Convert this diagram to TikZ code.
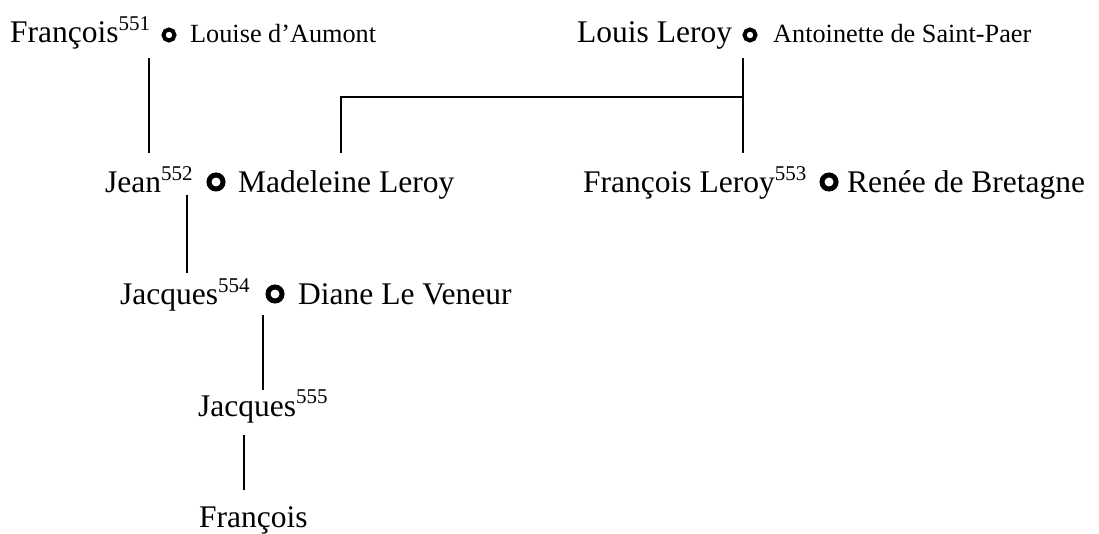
\documentclass[tikz,border=0pt]{standalone}
\usepackage{fontspec}
\setmainfont{Liberation Serif}
\newcommand{\gnum}[1]{\raisebox{12.5pt}{\fontsize{21}{24}\selectfont #1}}

\begin{document}
\begin{tikzpicture}[x=1pt,y=-1pt]
  \tikzset{person/.style = {anchor=base west,inner sep=0pt,font=\fontsize{31.5}{36}\selectfont}}
  \tikzset{spouse/.style = {anchor=base west,inner sep=0pt,font=\fontsize{26.25}{30}\selectfont}}
  \tikzset{ring/.style = {circle,draw,line width=4pt,minimum size=11pt,inner sep=0pt}}
  \tikzset{bigring/.style = {ring,line width=5pt,minimum size=14pt}}
  \tikzset{edge/.style = {line width=2.4pt}}

  \useasboundingbox (0,0) rectangle (1099,534);

	\node[person] (francois1) at (10,43) {François\gnum{551}};
	\node[ring] (r1) at (169,35) {};
	\node[spouse] (louise) at (190,43) {Louise d’Aumont};

	\node[person] (louis) at (577,43) {Louis Leroy};
	\node[ring] (r2) at (750,35) {};
	\node[spouse] (antoinette) at (773,43) {Antoinette de Saint-Paer};

		\node[person] (jean) at (105,193) {Jean\gnum{552}};
		\node[bigring] (r3) at (216,182) {};
		\node[person] (madeleine) at (238,193) {Madeleine Leroy};

		\node[person] (francoisL) at (583,193) {François Leroy\gnum{553}};
		\node[bigring] (r4) at (829,182) {};
		\node[person] (renee) at (847,193) {Renée de Bretagne};

			\node[person] (jacques1) at (120,305) {Jacques\gnum{554}};
			\node[bigring] (r5) at (275,294) {};
			\node[person] (diane) at (298,305) {Diane Le Veneur};

				\node[person] (jacques2) at (198,416) {Jacques\gnum{555}};

					\node[person] (francois2) at (199,527) {François};

  % line ends
  \coordinate (f1down) at (149,58);   \coordinate (jeanup) at (149,153);
  \coordinate (louisdown) at (743,58); \coordinate (leroyup) at (743,153);
  \coordinate (leroyjoin) at (743,97); \coordinate (madjoin) at (341,97);
  \coordinate (madup) at (341,153);
  \coordinate (jeandown) at (187,195); \coordinate (jac1up) at (187,273);
  \coordinate (jac1down) at (263,315); \coordinate (jac2up) at (263,390);
  \coordinate (jac2down) at (244,435); \coordinate (f2up) at (244,490);

    \foreach \from/\to in {f1down/jeanup,louisdown/leroyup,jeandown/jac1up,
    jac1down/jac2up,jac2down/f2up}
    \draw[edge] (\from) -- (\to);
    \draw[edge] (madup) -- (madjoin) -- (leroyjoin);

\end{tikzpicture}
\end{document}
